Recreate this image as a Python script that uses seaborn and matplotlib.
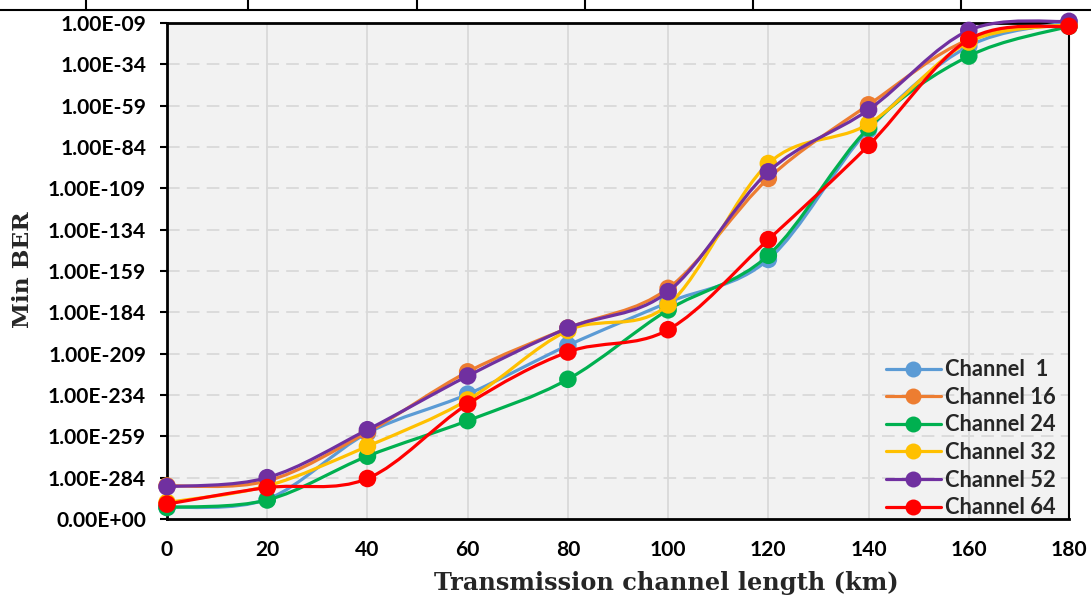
import numpy as np
import pandas as pd
import matplotlib
matplotlib.use("Agg")
import matplotlib.pyplot as plt
from matplotlib.path import Path
from matplotlib.patches import PathPatch
from matplotlib.lines import Line2D
import seaborn as sns

# ---- data (log10 of Min BER; -309 shown as 0.00E+00) ----
length_km = [0, 20, 40, 60, 80, 100, 120, 140, 160, 180]
ch1  = [-302, -297, -257, -233.5, -204, -178, -152, -73.5, -23, -8.5]
ch16 = [-289, -286, -256.5, -220, -193.5, -169.5, -103, -58.5, -19, -10]
ch24 = [-302, -297.5, -271, -249.5, -224.5, -182.5, -149.5, -72.5, -29, -11]
ch32 = [-299, -289, -265, -237, -195, -179.5, -94, -70, -20.5, -10]
ch52 = [-289.5, -284, -255, -222.5, -193.5, -171.5, -99, -61.5, -13.5, -8]
ch64 = [-300, -290, -284.5, -239.5, -208, -194.5, -140, -83, -19, -11]
series_names = ["Channel  1", "Channel 16", "Channel 24", "Channel 32", "Channel 52", "Channel 64"]
series_vals = [ch1, ch16, ch24, ch32, ch52, ch64]
colors = ["#5B9BD5", "#ED7D31", "#00B050", "#FFC000", "#7030A0", "#FF0000"]
ytick_vals = [-309, -284, -259, -234, -209, -184, -159, -134, -109, -84, -59, -34, -9]
ytick_labels = ["0.00E+00", "1.00E-284", "1.00E-259", "1.00E-234", "1.00E-209", "1.00E-184",
                "1.00E-159", "1.00E-134", "1.00E-109", "1.00E-84", "1.00E-59", "1.00E-34", "1.00E-09"]
xticks = [0, 20, 40, 60, 80, 100, 120, 140, 160, 180]

df = pd.DataFrame({"x": np.tile(length_km, len(series_names)),
                   "y": np.concatenate(series_vals),
                   "series": np.repeat(series_names, len(length_km))})

sns.set_style("white")
TICKFONT = ["Lato", "DejaVu Sans"]
LABELFONT = ["DejaVu Serif"]

fig = plt.figure(figsize=(10.91, 5.99), dpi=100)
renderer = fig.canvas.get_renderer()


def fit_size(s, family, target_px, base=12.0):
    t = fig.text(0, 0, s, family=family, fontweight="bold", fontsize=base)
    w = t.get_window_extent(renderer=renderer).width
    t.remove()
    return base * target_px / w


TICK_FS = fit_size("1.00E-109", TICKFONT, 98)
LEG_FS = fit_size("Channel 64", TICKFONT, 110)
XL_FS = fit_size("Transmission channel length (km)", LABELFONT, 462)
YL_FS = fit_size("Min BER", LABELFONT, 117)

ax = fig.add_axes([167 / 1091, 1 - 519 / 599, (1069 - 167) / 1091, (519 - 23) / 599])
ax.set_facecolor("#F2F2F2")


def smooth_path(xs, ys):
    pts = np.column_stack([xs, ys]).astype(float)
    n = len(pts)
    verts = [pts[0]]
    codes = [Path.MOVETO]
    for i in range(n - 1):
        p0 = pts[i - 1] if i > 0 else pts[i]
        p1 = pts[i]
        p2 = pts[i + 1]
        p3 = pts[i + 2] if i + 2 < n else pts[i + 1]
        c1 = p1 + (p2 - p0) / 6.0
        c2 = p2 - (p3 - p1) / 6.0
        verts += [c1, c2, p2]
        codes += [Path.CURVE4] * 3
    return Path(verts, codes)


LW = 2.3
for k, (name, col) in enumerate(zip(series_names, colors)):
    sub = df[df["series"] == name]
    patch = PathPatch(smooth_path(sub["x"].values, sub["y"].values), facecolor="none",
                      edgecolor=col, lw=LW, zorder=3 + 2 * k, clip_on=False, capstyle="round")
    ax.add_patch(patch)
    sns.scatterplot(data=sub, x="x", y="y", color=col, s=160, edgecolor="none",
                    ax=ax, zorder=4 + 2 * k, clip_on=False, legend=False)

ax.set_xlim(0, 180)
ax.set_ylim(-309, -9)
ax.set_xticks(xticks)
ax.set_xticklabels([str(v) for v in xticks])
ax.set_yticks(ytick_vals)
ax.set_yticklabels(ytick_labels)
for lab in ax.get_xticklabels() + ax.get_yticklabels():
    lab.set_family(TICKFONT)
    lab.set_fontweight("bold")
    lab.set_fontsize(TICK_FS)
    lab.set_color("black")
ax.tick_params(axis="x", length=0, pad=15)
ax.tick_params(axis="y", length=5, width=1.5, color="black", pad=10, direction="out", left=True)

ax.grid(False)
for xv in xticks[1:-1]:
    ax.axvline(xv, color="#D9D9D9", lw=1.3, zorder=1)
for yv in ytick_vals[1:-1]:
    ax.axhline(yv, color="#D9D9D9", lw=1.3, ls=(0, (7, 4)), zorder=1)

for side in ["left", "bottom", "top"]:
    ax.spines[side].set_visible(True)
    ax.spines[side].set_color("black")
    ax.spines[side].set_linewidth(2.0)
ax.spines["right"].set_visible(True)
ax.spines["right"].set_color("black")
ax.spines["right"].set_linewidth(1.5)

ax.set_xlabel("")
ax.set_ylabel("")
fig.text(666 / 1091, 1 - 583 / 599, "Transmission channel length (km)", family=LABELFONT,
         fontweight="bold", fontsize=XL_FS, ha="center", va="center")
fig.text(23 / 1091, 1 - 270 / 599, "Min BER", family=LABELFONT, fontweight="bold",
         fontsize=YL_FS, ha="center", va="center", rotation=90)

handles = [Line2D([0], [0], color=c, lw=LW, marker="o", markersize=11.5, markeredgewidth=0)
           for c in colors]
fs_px = LEG_FS * 100 / 72
leg = ax.legend(handles, series_names, loc="lower right", frameon=False,
                prop={"family": TICKFONT, "weight": "bold", "size": LEG_FS},
                handlelength=55 / fs_px, handletextpad=4 / fs_px,
                labelspacing=0.3,
                borderaxespad=0.0, bbox_to_anchor=(0.9945, -0.016))

# table border remnant at top of image
fig.add_artist(Line2D([0, 1], [1 - 10 / 599, 1 - 10 / 599], color="black", lw=1.5,
                      transform=fig.transFigure))
for xv in [86, 248, 417, 585, 753, 961]:
    fig.add_artist(Line2D([xv / 1091, xv / 1091], [1 - 10 / 599, 1.0], color="black", lw=1.5,
                          transform=fig.transFigure))

fig.savefig("out.png", dpi=100)
